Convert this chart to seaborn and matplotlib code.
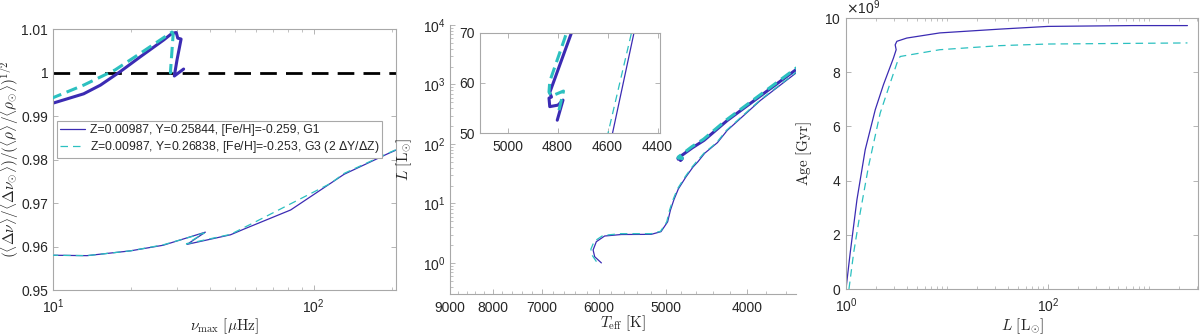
import numpy as np
import matplotlib
matplotlib.use('Agg')
import matplotlib.pyplot as plt
import seaborn as sns
from matplotlib.ticker import (FixedLocator, FuncFormatter, NullFormatter,
                               LogLocator, ScalarFormatter, LogFormatterSciNotation)

# ---- panel 1: large frequency separation ratio vs nu_max ----
nu_g1_rgb = [9.8, 13.5, 19.8, 26.5, 38.4, 32.7, 48.0, 54.0, 81.6, 130.8, 192, 215]
ratio_g1_rgb = [0.958, 0.9579, 0.9590, 0.9603, 0.9633, 0.9605, 0.9627, 0.9640, 0.9684, 0.9766, 0.9813, 0.9826]
nu_g3_rgb = [9.8, 13.5, 19.8, 26.5, 38.0, 32.5, 48.0, 59.0, 116, 130.8, 192, 215]
ratio_g3_rgb = [0.958, 0.9579, 0.9590, 0.9604, 0.9631, 0.9606, 0.9628, 0.9655, 0.9745, 0.9768, 0.9814, 0.9827]
nu_g1_clump = [9.8, 13.1, 15.2, 18.1, 21.6, 26.6, 28.6, 29.7, 30.1, 31.0, 29.9, 29.2, 31.7]
ratio_g1_clump = [0.9928, 0.9951, 0.9971, 1.0002, 1.0036, 1.0075, 1.0090, 1.0092, 1.0079, 1.0077, 1.0029, 0.9992, 1.0008]
nu_g3_clump = [9.8, 13.1, 17.3, 21.6, 25.8, 28.6, 28.9, 28.2, 28.5]
ratio_g3_clump = [0.9940, 0.9971, 1.0006, 1.0044, 1.0075, 1.0093, 1.0088, 0.9999, 1.0003]

# ---- panel 2: HR diagram ----
teff_g1_rgb = [5957, 6067, 6093, 6040, 5905, 5643, 5200, 5064, 4973, 4935, 4890, 4830, 4730, 4640, 4580, 4494, 4342, 4227, 3863, 3496, 3400]
lum_g1_rgb = [1.0, 1.27, 1.65, 2.27, 2.83, 3.0, 3.02, 3.35, 4.9, 7.7, 11.4, 17.5, 28, 41, 50, 70, 105, 169, 537, 1600, 1950]
teff_g3_rgb = [6038, 6110, 6130, 6075, 5930, 5650, 5200, 5070, 4985, 4947, 4902, 4842, 4742, 4652, 4598, 4504, 4352, 4237, 3870, 3500, 3400]
lum_g3_rgb = [1.05, 1.35, 1.7, 2.3, 2.9, 3.1, 3.1, 3.4, 4.9, 7.7, 11.4, 17.5, 28, 41, 50, 70, 105, 169, 540, 1620, 1980]
teff_g1_clump = [4801, 4778, 4798, 4831, 4834, 4824, 4831, 4744, 4650, 4503, 4227, 3496, 3400]
lum_g1_clump = [52.6, 56.6, 55.6, 55.3, 57.0, 57.2, 58.1, 70.0, 86, 115, 248, 1820, 2200]
teff_g3_clump = [4794, 4776, 4824, 4834, 4831, 4771, 4745, 4655, 4510, 4235, 3500, 3400]
lum_g3_clump = [54.6, 58.4, 57.4, 58.2, 60.3, 68.9, 73, 90, 120, 255, 1900, 2300]

# ---- panel 3: age vs luminosity ----
lum_g1_age = [1.0, 1.10, 1.284, 1.55, 1.95, 2.35, 2.95, 3.14, 3.07, 3.19, 4.0, 8.5, 33.4, 100, 690, 2410]
age_g1 = [0.0, 1.33e9, 3.30e9, 5.14e9, 6.62e9, 7.54e9, 8.52e9, 8.83e9, 9.01e9, 9.14e9, 9.26e9, 9.45e9, 9.59e9, 9.69e9, 9.72e9, 9.72e9]
lum_g3_age = [1.07, 1.19, 1.38, 1.67, 2.18, 2.74, 3.24, 3.44, 8.5, 33.4, 100, 2410]
age_g3 = [0.0, 1.33e9, 2.8e9, 4.52e9, 6.49e9, 7.60e9, 8.40e9, 8.58e9, 8.83e9, 8.98e9, 9.04e9, 9.08e9]

label_g1 = 'Z=0.00987, Y=0.25844, [Fe/H]=-0.259, G1'
label_g3 = r'Z=0.00987, Y=0.26838, [Fe/H]=-0.253, G3 (2 $\Delta$Y/$\Delta$Z)'

c_g1 = '#3b2bb3'
c_g3 = '#2cc0c0'
spine_c = '#a8a8a8'
text_c = '#262626'

sns.set_theme(style='ticks')
plt.rcParams['font.family'] = ['Liberation Sans', 'DejaVu Sans']
plt.rcParams['axes.edgecolor'] = spine_c
plt.rcParams['xtick.color'] = spine_c
plt.rcParams['ytick.color'] = spine_c
plt.rcParams['xtick.labelcolor'] = text_c
plt.rcParams['ytick.labelcolor'] = text_c
plt.rcParams['xtick.labelsize'] = 10
plt.rcParams['ytick.labelsize'] = 10


def line(ax, x, y, color, lw, dash=None, z=2):
    ls = '-' if dash is None else (0, dash)
    sns.lineplot(x=x, y=y, ax=ax, color=color, linewidth=lw, sort=False,
                 estimator=None, linestyle=ls, zorder=z)
    return ax.lines[-1]


def style_ticks(ax, box=True):
    ax.tick_params(which='both', direction='in', top=box, right=box)
    ax.tick_params(which='major', length=3.5, width=0.6)
    ax.tick_params(which='minor', length=2, width=0.5)
    ax.tick_params(axis='x', which='major', pad=5)
    for s in ax.spines.values():
        s.set_linewidth(0.8)
    if not box:
        ax.spines['top'].set_visible(False)
        ax.spines['right'].set_visible(False)


fig = plt.figure(figsize=(12, 3.34), dpi=100)
lab_kw = dict(fontsize=11, math_fontfamily='cm', color=text_c)

# panel 1
ax1 = fig.add_axes([0.0442, 0.1317, 0.2858, 0.7814])
ax1.axhline(1.0, color='black', lw=2, linestyle=(0, (6, 3.3)), zorder=1)
h1 = line(ax1, nu_g1_rgb, ratio_g1_rgb, c_g1, 0.9)
line(ax1, nu_g1_clump, ratio_g1_clump, c_g1, 2.2)
h3 = line(ax1, nu_g3_rgb, ratio_g3_rgb, c_g3, 0.9, (6, 4), 3)
line(ax1, nu_g3_clump, ratio_g3_clump, c_g3, 2.2, (3.7, 1.9), 3)
ax1.set_xscale('log')
ax1.set_xlim(10, 207)
ax1.set_ylim(0.95, 1.01)
ax1.xaxis.set_major_locator(FixedLocator([10, 100]))
ax1.xaxis.set_major_formatter(LogFormatterSciNotation())
ax1.xaxis.set_minor_locator(LogLocator(subs=np.arange(2, 10)))
ax1.xaxis.set_minor_formatter(NullFormatter())
ax1.yaxis.set_major_locator(FixedLocator([0.95, 0.96, 0.97, 0.98, 0.99, 1.0, 1.01]))
ax1.yaxis.set_major_formatter(FuncFormatter(lambda v, p: '%g' % round(v, 2)))
style_ticks(ax1)
ax1.set_xlabel(r'$\nu_{\rm max}\ [\mu{\rm Hz}]$', **lab_kw)
ax1.set_ylabel(r'$(\langle\Delta\nu\rangle/\langle\Delta\nu_{\odot}\rangle)/(\langle\rho\rangle/\langle\rho_{\odot}\rangle)^{1/2}$',
               fontsize=11, math_fontfamily='cm', color=text_c)
ax1.xaxis.set_label_coords(0.5, -0.10)
ax1.yaxis.set_label_coords(-0.093, 0.5)
leg = ax1.legend([h1, h3], [label_g1, label_g3], loc='upper left',
                 bbox_to_anchor=(0.012, 0.648), fontsize=8.8, frameon=True,
                 fancybox=False, framealpha=1, edgecolor=spine_c,
                 handlelength=2.0, labelspacing=0.25, borderpad=0.25,
                 borderaxespad=0, handletextpad=0.4)
leg.get_frame().set_linewidth(0.8)

# panel 2
ax2 = fig.add_axes([0.375, 0.1198, 0.2883, 0.8054])
line(ax2, teff_g1_rgb, lum_g1_rgb, c_g1, 0.9)
line(ax2, teff_g1_clump, lum_g1_clump, c_g1, 2.2)
line(ax2, teff_g3_rgb, lum_g3_rgb, c_g3, 0.9, (6, 4), 3)
line(ax2, teff_g3_clump, lum_g3_clump, c_g3, 2.2, (3.7, 1.9), 3)
ax2.set_xscale('log')
ax2.set_yscale('log')
ax2.set_xlim(9000, 3505)
ax2.set_ylim(0.3, 1e4)
ax2.xaxis.set_major_locator(FixedLocator([4000, 5000, 6000, 7000, 8000, 9000]))
ax2.xaxis.set_major_formatter(FuncFormatter(lambda v, p: '%d' % v))
ax2.xaxis.set_minor_locator(FixedLocator([t for t in range(3600, 9001, 200) if t % 1000]))
ax2.xaxis.set_minor_formatter(NullFormatter())
ax2.yaxis.set_major_locator(FixedLocator([1, 10, 100, 1000, 10000]))
ax2.yaxis.set_major_formatter(LogFormatterSciNotation())
ax2.yaxis.set_minor_locator(LogLocator(subs=np.arange(2, 10)))
ax2.yaxis.set_minor_formatter(NullFormatter())
style_ticks(ax2, box=False)
ax2.set_xlabel(r'$T_{\rm eff}\ [{\rm K}]$', **lab_kw)
ax2.set_ylabel(r'$L\ [{\rm L}_{\odot}]$', **lab_kw)
ax2.xaxis.set_label_coords(0.5, -0.073)
ax2.yaxis.set_label_coords(-0.105, 0.5)

# inset
axi = fig.add_axes([0.4, 0.601, 0.15, 0.301])
line(axi, teff_g1_rgb, lum_g1_rgb, c_g1, 0.9)
line(axi, teff_g1_clump, lum_g1_clump, c_g1, 2.2)
line(axi, teff_g3_rgb, lum_g3_rgb, c_g3, 0.9, (6, 4), 3)
line(axi, teff_g3_clump, lum_g3_clump, c_g3, 2.2, (3.7, 1.9), 3)
axi.set_xlim(5110, 4390)
axi.set_ylim(50, 70)
axi.xaxis.set_major_locator(FixedLocator([5000, 4800, 4600, 4400]))
axi.yaxis.set_major_locator(FixedLocator([50, 60, 70]))
style_ticks(axi)

# panel 3
ax3 = fig.add_axes([0.705, 0.1347, 0.2935, 0.8114])
line(ax3, lum_g1_age, age_g1, c_g1, 0.9)
line(ax3, lum_g3_age, age_g3, c_g3, 0.9, (6, 4), 3)
ax3.set_xscale('log')
ax3.set_xlim(1, 3080)
ax3.set_ylim(0, 1e10)
ax3.xaxis.set_major_locator(FixedLocator([1, 100]))
ax3.xaxis.set_major_formatter(LogFormatterSciNotation())
ax3.xaxis.set_minor_locator(LogLocator(subs=np.arange(1, 10)))
ax3.xaxis.set_minor_formatter(NullFormatter())
ax3.yaxis.set_major_locator(FixedLocator([0, 2e9, 4e9, 6e9, 8e9, 1e10]))
fmt = ScalarFormatter(useMathText=True)
fmt.set_powerlimits((9, 9))
ax3.yaxis.set_major_formatter(fmt)
ax3.yaxis.get_offset_text().set_fontsize(10)
ax3.yaxis.get_offset_text().set_color(text_c)
style_ticks(ax3)
ax3.set_xlabel(r'$L\ [{\rm L}_{\odot}]$', **lab_kw)
ax3.set_ylabel(r'${\rm Age}\ [{\rm Gyr}]$', **lab_kw)
ax3.xaxis.set_label_coords(0.5, -0.10)
ax3.yaxis.set_label_coords(-0.09, 0.5)

fig.savefig('out.png', dpi=100)
